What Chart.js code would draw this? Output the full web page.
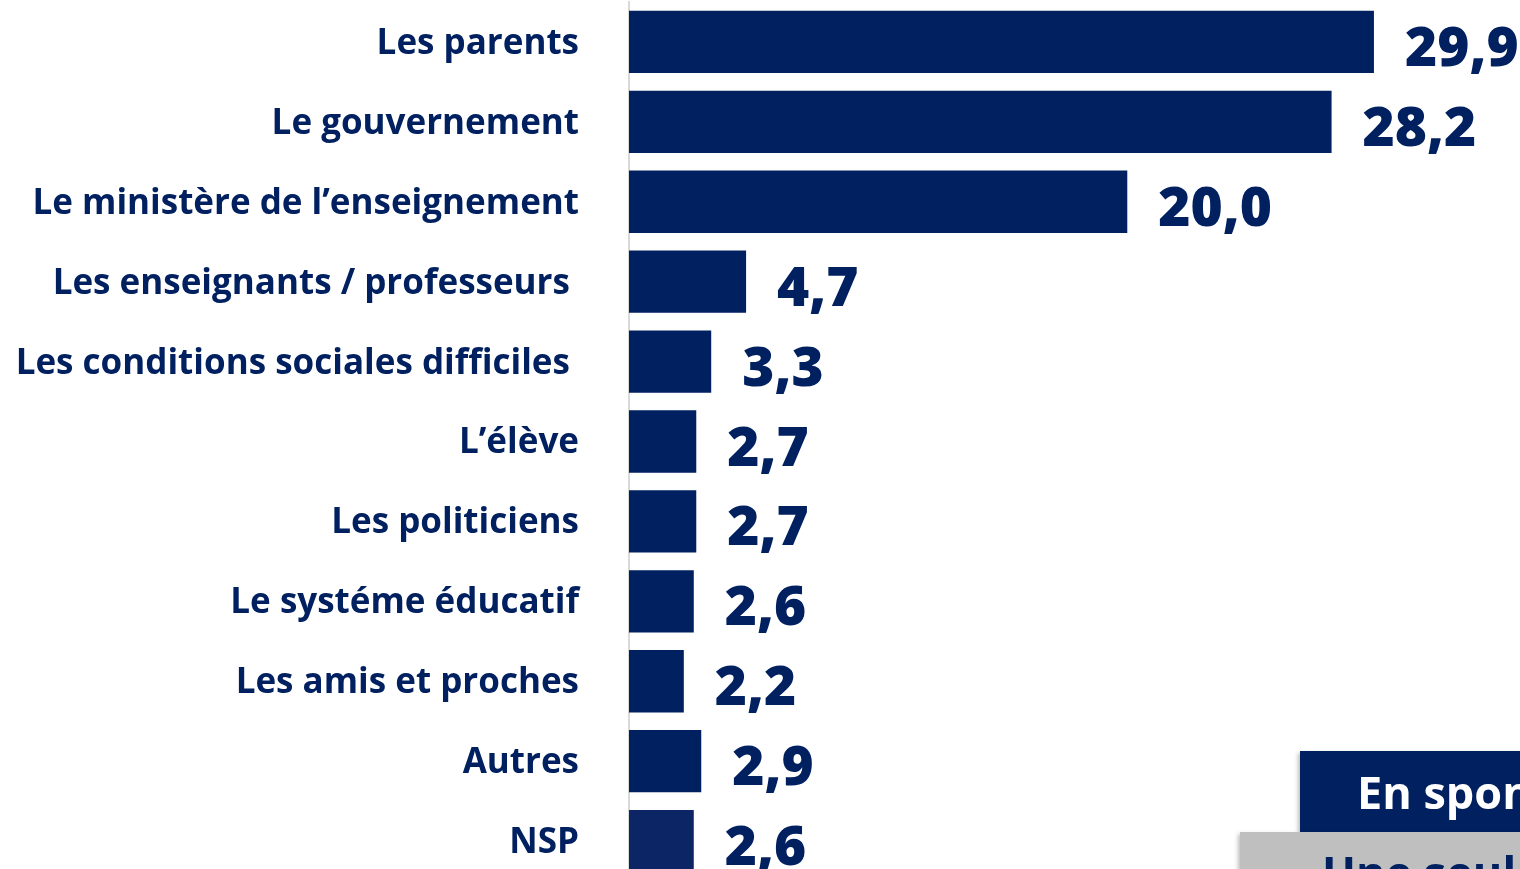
<!DOCTYPE html>
<html>
<head>
<meta charset="utf-8">
<script src="https://cdn.jsdelivr.net/npm/chart.js@4.4.1/dist/chart.umd.min.js"></script>
<style>
    html, body { margin: 0; padding: 0; background: #fff; overflow: hidden; }
    #wrap { position: relative; width: 1520px; height: 869px; overflow: hidden; }
    #barChart { position: absolute; left: 0; top: 0; }
    .tag { position: absolute; font-family: "Open Sans", sans-serif; font-weight: bold; white-space: nowrap; }
    #spont { left: 1300px; top: 751px; width: 260px; height: 81px; background: #002060; color: #fff;
             font-size: 45px; line-height: 81px; padding-left: 57px; box-sizing: border-box;
             box-shadow: -2px 2px 4px rgba(0,0,0,0.25); }
    #seule { left: 1240px; top: 832px; width: 320px; height: 80px; background: #bfbfbf; color: #002060;
             font-size: 45px; line-height: 80px; padding-left: 82px; box-sizing: border-box;
             box-shadow: -2px 2px 4px rgba(0,0,0,0.25); }
</style>
</head>
<body>
<div id="wrap">
    <canvas id="barChart" width="1520" height="881"></canvas>
    <div class="tag" id="spont">En spontané</div>
    <div class="tag" id="seule">Une seule réponse</div>
</div>

<script>
    var labels = ["Les parents", "Le gouvernement", "Le ministère de l’enseignement",
        "Les enseignants / professeurs\u00a0", "Les conditions sociales difficiles\u00a0",
        "L’élève", "Les politiciens", "Le systéme éducatif", "Les amis et proches", "Autres", "NSP"];
    var values = [29.9, 28.2, 20.0, 4.7, 3.3, 2.7, 2.7, 2.6, 2.2, 2.9, 2.6];
    var valueText = ["29,9", "28,2", "20,0", "4,7", "3,3", "2,7", "2,7", "2,6", "2,2", "2,9", "2,6"];

    var navy = '#002060';
    var barColors = values.map(function (v, i) { return i == values.length - 1 ? '#0b2565' : navy; });

    // valeurs au bout des barres
    var valueLabels = {
        id: 'valueLabels',
        afterDatasetsDraw: function (chart) {
            var ctx = chart.ctx;
            var meta = chart.getDatasetMeta(0);
            ctx.save();
            ctx.fillStyle = navy;
            ctx.font = '800 55px "Open Sans"';
            ctx.textAlign = 'left';
            ctx.textBaseline = 'alphabetic';
            meta.data.forEach(function (bar, i) {
                ctx.fillText(valueText[i], bar.x + 31, bar.y + 24);
            });
            ctx.restore();
        }
    };

    var ctx = document.getElementById("barChart").getContext("2d");
    new Chart(ctx, {
        type: 'bar',
        data: {
            labels: labels,
            datasets: [{
                data: values,
                backgroundColor: barColors,
                borderWidth: 0,
                categoryPercentage: 1,
                barPercentage: 0.78
            }]
        },
        options: {
            indexAxis: 'y',
            responsive: false,
            animation: false,
            layout: { padding: { top: 2, right: 19, bottom: 0, left: 0 } },
            plugins: { legend: { display: false }, tooltip: { enabled: false } },
            scales: {
                x: { display: false, min: 0, max: 35 },
                y: {
                    grid: { display: false, drawTicks: false },
                    border: { display: true, color: '#d9d9d9', width: 2 },
                    ticks: {
                        color: navy,
                        padding: 50,
                        labelOffset: 2,
                        font: { family: 'Open Sans', weight: 'bold', size: 35 }
                    },
                    afterFit: function (scale) {
                        scale.width = 629;
                        scale.paddingTop = 0;
                        scale.paddingBottom = 0;
                    }
                }
            }
        },
        plugins: [valueLabels]
    });
</script>
</body>
</html>
